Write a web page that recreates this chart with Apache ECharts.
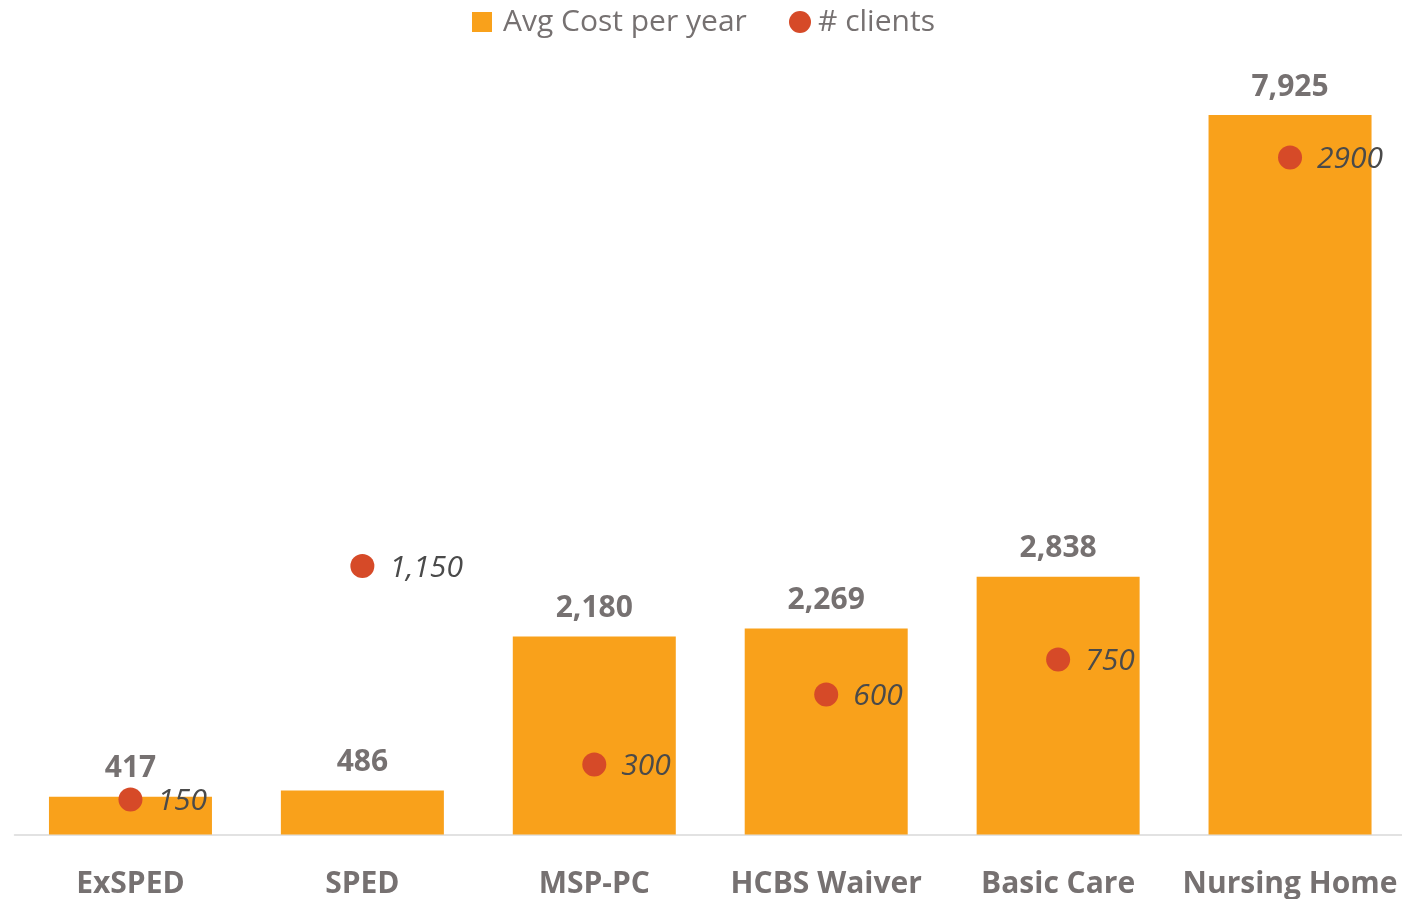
<!DOCTYPE html>
<html>
<head>
<meta charset="utf-8">
<script src="https://cdn.jsdelivr.net/npm/echarts@6/dist/echarts.min.js"></script>
<style>
html,body{margin:0;padding:0;background:#fff;}
#c{width:1402px;height:899px;}
</style>
</head>
<body>
<div id="c"></div>
<script>
var categories = ['ExSPED', 'SPED', 'MSP-PC', 'HCBS Waiver', 'Basic Care', 'Nursing Home'];
var avgCost = [417, 486, 2180, 2269, 2838, 7925];
var clients = [150, 1150, 300, 600, 750, 2900];
var clientLabels = ['150', '1,150', '300', '600', '750', '2900'];

var FONT = '"Open Sans", "Noto Sans", sans-serif';
var TXT = '#767171';
var chart = echarts.init(document.getElementById('c'));
chart.setOption({
  animation: false,
  legend: [
    {
      data: ['Avg Cost per year'],
      left: 472, top: 7, padding: 0,
      itemWidth: 20, itemHeight: 20,
      icon: 'rect',
      textStyle: {fontFamily: FONT, fontSize: 30, color: TXT, padding: [0, 0, 0, 6]}
    },
    {
      data: ['# clients'],
      left: 789, top: 7, padding: 0,
      itemWidth: 22, itemHeight: 22,
      icon: 'circle',
      itemStyle: {opacity: 1},
      textStyle: {fontFamily: FONT, fontSize: 30, color: TXT, padding: [0, 0, 0, 2]}
    }
  ],
  grid: {left: 14.5, right: -4, top: 17.5, bottom: 64.5, containLabel: false, outerBoundsMode: 'none'},
  xAxis: {
    type: 'category',
    data: categories,
    axisLine: {lineStyle: {color: '#D9D9D9', width: 1.5}},
    axisTick: {show: false},
    axisLabel: {fontFamily: FONT, fontSize: 30, fontWeight: 'bold', color: TXT, margin: 35, interval: 0}
  },
  yAxis: [
    {type: 'value', min: 0, max: 9000, show: false, splitLine: {show: false}},
    {type: 'value', min: 0, max: 3500, show: false, splitLine: {show: false}}
  ],
  series: [
    {
      name: 'Avg Cost per year',
      type: 'bar',
      data: avgCost,
      barWidth: 163,
      itemStyle: {color: '#F9A11B'},
      label: {
        show: true, position: 'top', distance: 13,
        fontFamily: FONT, fontSize: 30, fontWeight: 'bold', color: TXT,
        formatter: function (p) { return p.value.toLocaleString('en-US'); }
      }
    },
    {
      name: '# clients',
      type: 'scatter',
      yAxisIndex: 1,
      data: clients,
      symbolSize: 24,
      itemStyle: {color: '#D64A28', opacity: 1},
      z: 5,
      label: {
        show: true, position: 'right', distance: 15, offset: [0, 2],
        fontFamily: FONT, fontSize: 30, fontStyle: 'italic', color: '#4A4A4A',
        formatter: function (p) { return clientLabels[p.dataIndex]; }
      }
    }
  ]
});
</script>
</body>
</html>
